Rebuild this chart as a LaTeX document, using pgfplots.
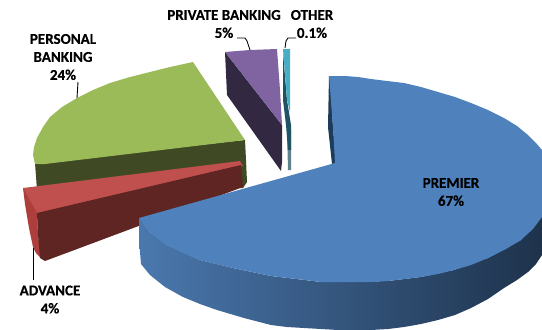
\documentclass[border=0pt]{standalone}
\usepackage{pgfplots}
\pgfplotsset{compat=1.18}
\usepackage{fontspec}
\setmainfont[BoldFeatures={FakeBold=0.35}]{Carlito}
\definecolor{premierTop}{RGB}{79,129,189}
\definecolor{personalTop}{RGB}{155,187,89}
\definecolor{personalSide}{RGB}{63,74,36}
\definecolor{advanceTop}{RGB}{192,80,77}
\definecolor{advanceSide}{RGB}{94,37,35}
\definecolor{advanceEdge}{RGB}{172,62,60}
\definecolor{privateTop}{RGB}{128,100,162}
\definecolor{privateSide}{RGB}{50,40,66}
\definecolor{otherTop}{RGB}{75,172,198}
\definecolor{otherSide}{RGB}{32,84,100}
\definecolor{otherFoot}{RGB}{95,130,140}
\definecolor{premierSideL}{RGB}{74,120,174}
\definecolor{premierSideM}{RGB}{48,80,116}
\definecolor{premierSideR}{RGB}{30,50,75}
\definecolor{premierInner}{RGB}{28,60,90}
\tikzset{
  labelstyle/.style={font=\fontsize{15}{18}\selectfont\bfseries, align=center, text=black, inner sep=0pt},
  leader/.style={draw=black, line width=0.9pt, fill=none},
}
\begin{document}
\begin{tikzpicture}
\path[use as bounding box, fill=white] (0,0) rectangle (542pt,330pt);
\begin{axis}[
  at={(0,0)}, anchor=south west,
  scale only axis, width=542pt, height=330pt,
  xmin=0, xmax=542, ymin=0, ymax=330, y dir=reverse,
  hide axis, clip=true,
  every axis plot/.append style={draw=none, mark=none, line join=round},
]
% Personal banking: side wall, then top face
\addplot[fill=personalSide] coordinates {(35,163)(245,140)(246,160)(247,182)(243,188)(37,190)};
\addplot[fill=personalTop] coordinates {(193,62)(170,67)(150,72)(130,77)(110,83)(93,90)(77,98)(62,107)(50,117)(43,127)(37,138)(34,147)(33,155)(35,164)(45,164)(245,140)};
% Advance: top face, outer rim, cut wall
\addplot[fill=advanceTop] coordinates {(23,188)(240,161)(243,166)(37,214)(30,205)};
\addplot[fill=advanceEdge] coordinates {(23,188)(37,213)(38,235)(41,258)(36,253)(33,247)(29,228)(25,204)};
\addplot[fill=advanceSide] coordinates {(37,213)(241,165)(243,187)(45,261)(40,258)(38,235)};
% Premier: outer wall, inner cut, top face
\addplot[left color=premierSideL, middle color=premierSideM, right color=premierSideR]
  coordinates {(139,218)(139,240)(141,264)(150,275)(165,287)(183,297)(200,304)(217,310)(244,318)(271,325)(287,327)(304,328)(321,329)(338,330)(355,330)(371,330)(388,329)(404,327)(421,324)(438,320)(455,315)(471,308)(488,299)(504,288)(517,280)(528,272)(536,264)(542,255)(542,200)(521,240)(488,258)(454,270)(421,277)(388,281)(354,282)(321,282)(288,278)(271,276)(233,268)(200,260)(167,245)(150,232)};
\addplot[fill=premierInner] coordinates {(329,76)(328,127)(332,164)(336,163)(333,127)(330,76)};
\addplot[fill=premierTop] coordinates {(329,76)(345,76)(358,77)(371,79)(387,81)(404,83)(421,87)(438,92)(455,97)(471,103)(488,110)(504,118)(517,126)(528,135)(536,143)(542,150)(542,217)(533,229)(521,240)(506,249)(488,258)(471,265)(454,270)(438,274)(421,277)(405,279)(388,281)(371,282)(354,282)(338,282)(321,282)(305,280)(288,278)(271,276)(252,272)(233,268)(216,264)(200,260)(183,253)(167,245)(158,239)(150,232)(144,225)(139,218)(328,165)(335,163)(333,127)};
% Private banking
\addplot[fill=privateSide] coordinates {(225,52)(282,125)(282,162)(281,171)(227,95)};
\addplot[fill=privateTop] coordinates {(225,52)(250,50)(277,49)(280,90)(282,125)};
% Other
\addplot[fill=otherFoot] coordinates {(287,130)(291,130)(291,170)(288,170)};
\addplot[fill=otherSide] coordinates {(283,52)(287,100)(291,125)(291,150)(288,150)(286,125)(283,100)};
\addplot[fill=otherTop] coordinates {(283,49)(290,49)(290,112)(287,100)};
% Leader lines
\addplot[leader] coordinates {(78,82)(77,98)};
\addplot[leader] coordinates {(237,38)(245,38)(247,41)(250,50)};
\addplot[leader] coordinates {(296,38)(288,38)(286,41)(285,48)};
\addplot[leader] coordinates {(33,248)(33,280)};
% Labels
\node[labelstyle] at (axis cs:63,57) {PERSONAL\\BANKING\\24\%};
\node[labelstyle] at (axis cs:224,24) {PRIVATE BANKING\\5\%};
\node[labelstyle] at (axis cs:312,24) {OTHER\\0.1\%};
\node[labelstyle] at (axis cs:50,299.5) {ADVANCE\\4\%};
\node[labelstyle] at (axis cs:451,192) {PREMIER\\67\%};
\end{axis}
\end{tikzpicture}
\end{document}
